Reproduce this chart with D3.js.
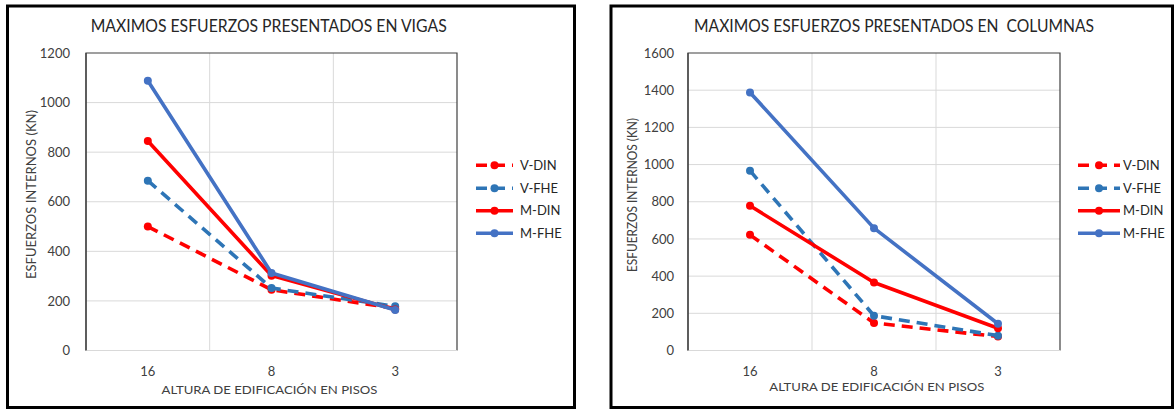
<!DOCTYPE html>
<html>
<head>
<meta charset="utf-8">
<script src="https://cdn.jsdelivr.net/npm/d3@7/dist/d3.min.js"></script>
<style>
  html, body { margin: 0; padding: 0; background: #fff; }
  svg { display: block; font-family: Lato, "Noto Sans", sans-serif; }
</style>
</head>
<body>
<svg id="chart" width="1176" height="409"></svg>
<script>
// Floor counts on the category axis
const pisos = ["16", "8", "3"];
const seriesNames = ["V-DIN", "V-FHE", "M-DIN", "M-FHE"];

// Beams (vigas), internal forces in kN
const vigasVDIN = [500, 245, 170];
const vigasVFHE = [685, 252, 178];
const vigasMDIN = [845, 302, 165];
const vigasMFHE = [1088, 313, 163];
const vigasTicks = [0, 200, 400, 600, 800, 1000, 1200];

// Columns (columnas), internal forces in kN
const colVDIN = [622, 148, 75];
const colVFHE = [967, 187, 80];
const colMDIN = [778, 366, 120];
const colMFHE = [1388, 658, 144];
const colTicks = [0, 200, 400, 600, 800, 1000, 1200, 1400, 1600];

const seriesStyle = {
  "V-DIN": { color: "#FF0000", dash: "11,7" },
  "V-FHE": { color: "#2E75B6", dash: "11,7" },
  "M-DIN": { color: "#FF0000", dash: null },
  "M-FHE": { color: "#4472C4", dash: null }
};

const svg = d3.select("#chart");
svg.append("rect").attr("width", 1176).attr("height", 409).attr("fill", "#fff");

function drawPanel(cfg) {
  const g = svg.append("g");

  // outer frame
  g.append("rect")
    .attr("x", cfg.frame[0]).attr("y", cfg.frame[1])
    .attr("width", cfg.frame[2] - cfg.frame[0]).attr("height", cfg.frame[3] - cfg.frame[1])
    .attr("fill", "#fff").attr("stroke", "#000").attr("stroke-width", 3);

  const x = d3.scaleBand().domain(pisos).range([cfg.x0, cfg.x1]).paddingInner(0).paddingOuter(0);
  const cx = d => x(d) + x.bandwidth() / 2;
  const y = d3.scaleLinear().domain([0, d3.max(cfg.ticks)]).range([cfg.yBottom, cfg.yTop]);

  // gridlines
  g.append("g").selectAll("line.h")
    .data(cfg.ticks.filter(t => t > 0 && t < d3.max(cfg.ticks)))
    .join("line")
    .attr("x1", cfg.x0).attr("x2", cfg.x1)
    .attr("y1", d => y(d)).attr("y2", d => y(d))
    .attr("stroke", "#D9D9D9").attr("stroke-width", 1);
  g.append("g").selectAll("line.v")
    .data(pisos.slice(1))
    .join("line")
    .attr("x1", d => x(d)).attr("x2", d => x(d))
    .attr("y1", cfg.yTop).attr("y2", cfg.yBottom)
    .attr("stroke", "#D9D9D9").attr("stroke-width", 1);

  // plot area border: dark top/right/left, light category axis
  g.append("path")
    .attr("d", `M${cfg.x0},${cfg.yBottom}V${cfg.yTop}H${cfg.x1}V${cfg.yBottom}`)
    .attr("fill", "none").attr("stroke", "#404040").attr("stroke-width", 1.2);
  g.append("line")
    .attr("x1", cfg.x0).attr("x2", cfg.x1)
    .attr("y1", cfg.yBottom).attr("y2", cfg.yBottom)
    .attr("stroke", "#D9D9D9").attr("stroke-width", 1.2);
  g.append("line")
    .attr("x1", cfg.x0).attr("x2", cfg.x0)
    .attr("y1", cfg.yTop).attr("y2", cfg.yBottom)
    .attr("stroke", "#404040").attr("stroke-width", 1.2);

  // value axis
  const yAxis = g.append("g")
    .attr("transform", `translate(${cfg.x0},0)`)
    .call(d3.axisLeft(y).tickValues(cfg.ticks).tickSize(0).tickPadding(cfg.yPad).tickFormat(d3.format("d")));
  yAxis.select(".domain").remove();
  yAxis.selectAll("text").attr("font-size", 13).attr("fill", "#404040")
    .attr("font-family", "Lato, sans-serif");

  // category axis
  const xAxis = g.append("g")
    .attr("transform", `translate(0,${cfg.yBottom})`)
    .call(d3.axisBottom(x).tickSize(0).tickPadding(16));
  xAxis.select(".domain").remove();
  xAxis.selectAll("text").attr("font-size", 13).attr("fill", "#404040")
    .attr("font-family", "Lato, sans-serif");

  // titles
  g.append("text")
    .attr("x", cfg.title.x).attr("y", 31.7)
    .attr("textLength", cfg.title.len).attr("lengthAdjust", "spacingAndGlyphs")
    .attr("font-size", 17).attr("fill", "#262626")
    .style("white-space", "pre")
    .text(cfg.title.text);

  g.append("text")
    .attr("x", cfg.xTitle.x).attr("y", cfg.xTitle.y)
    .attr("textLength", cfg.xTitle.len).attr("lengthAdjust", "spacingAndGlyphs")
    .attr("font-size", 12).attr("fill", "#404040")
    .text("ALTURA DE EDIFICACIÓN EN PISOS");

  g.append("text")
    .attr("transform", `translate(${cfg.yTitle.x},${cfg.yTitle.y}) rotate(-90)`)
    .attr("text-anchor", "middle")
    .attr("textLength", cfg.yTitle.len).attr("lengthAdjust", "spacingAndGlyphs")
    .attr("font-size", 13).attr("fill", "#404040")
    .text("ESFUERZOS INTERNOS (KN)");

  // series
  const line = d3.line().x((d, i) => cx(pisos[i])).y(d => y(d));
  cfg.series.forEach((vals, k) => {
    const st = seriesStyle[seriesNames[k]];
    g.append("path")
      .datum(vals)
      .attr("d", line)
      .attr("fill", "none")
      .attr("stroke", st.color)
      .attr("stroke-width", 3.6)
      .attr("stroke-linejoin", "round")
      .attr("stroke-dasharray", st.dash);
    g.append("g").selectAll("circle")
      .data(vals)
      .join("circle")
      .attr("cx", (d, i) => cx(pisos[i]))
      .attr("cy", d => y(d))
      .attr("r", 4)
      .attr("fill", st.color);
  });

  // legend
  const legendRows = [165.3, 188.3, 210.7, 233.3];
  seriesNames.forEach((name, k) => {
    const st = seriesStyle[name];
    const ly = legendRows[k];
    const lg = g.append("g");
    lg.append("line")
      .attr("x1", cfg.legend.x1).attr("x2", cfg.legend.x2)
      .attr("y1", ly).attr("y2", ly)
      .attr("stroke", st.color).attr("stroke-width", 3.6)
      .attr("stroke-dasharray", st.dash);
    lg.append("circle")
      .attr("cx", (cfg.legend.x1 + cfg.legend.x2) / 2).attr("cy", ly)
      .attr("r", 4).attr("fill", st.color);
    lg.append("text")
      .attr("x", cfg.legend.tx).attr("y", ly).attr("dy", "0.36em")
      .attr("font-size", 13).attr("fill", "#262626")
      .text(name);
  });
}

drawPanel({
  frame: [7.5, 6, 574.5, 407.5],
  x0: 86, x1: 457, yTop: 53, yBottom: 350.5,
  ticks: vigasTicks, yPad: 16,
  series: [vigasVDIN, vigasVFHE, vigasMDIN, vigasMFHE],
  title: { text: "MAXIMOS ESFUERZOS PRESENTADOS EN VIGAS", x: 90.7, len: 356 },
  xTitle: { x: 161.5, y: 394, len: 216 },
  yTitle: { x: 36, y: 194.5, len: 169 },
  legend: { x1: 476, x2: 513, tx: 520 }
});

drawPanel({
  frame: [611, 6, 1172.5, 407.5],
  x0: 688, x1: 1060, yTop: 53, yBottom: 350.5,
  ticks: colTicks, yPad: 14,
  series: [colVDIN, colVFHE, colMDIN, colMFHE],
  title: { text: "MAXIMOS ESFUERZOS PRESENTADOS EN  COLUMNAS", x: 694, len: 400 },
  xTitle: { x: 769.3, y: 391, len: 215 },
  yTitle: { x: 637, y: 195, len: 154 },
  legend: { x1: 1078, x2: 1120, tx: 1123 }
});
</script>
</body>
</html>
